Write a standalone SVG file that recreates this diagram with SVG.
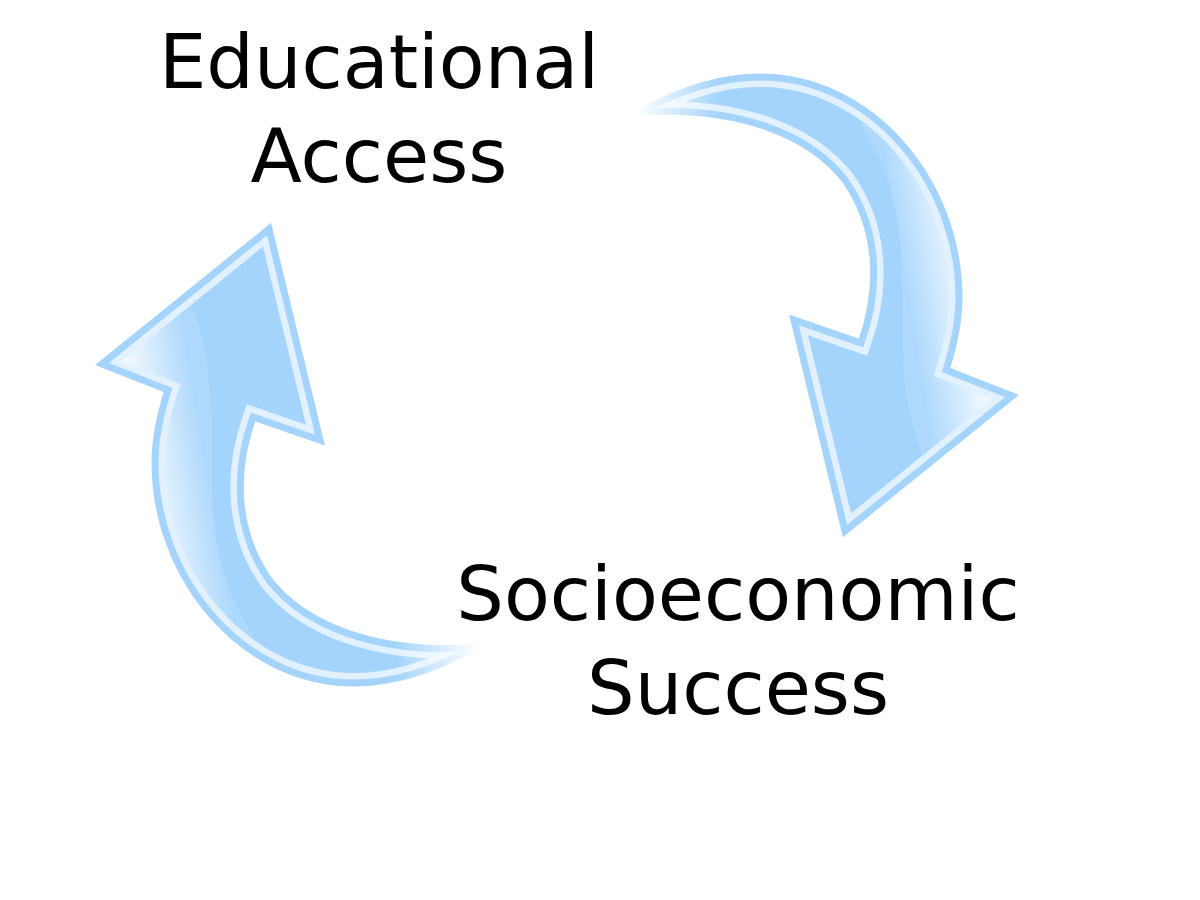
<svg xmlns="http://www.w3.org/2000/svg" xmlns:xlink="http://www.w3.org/1999/xlink" width="1200" height="900" viewBox="0 0 1200 900">
  <style>
    .label { font-family: "DejaVu Sans", "Liberation Sans", sans-serif; font-size: 75px; fill: #000; text-anchor: middle; }
  </style>
  <defs>
    <path id="arrowShape" d="M 640,112 C 680,90 720,77 760,77 C 870,77 959,180 959,298 C 959,322 953,348 946,370 L 1012,396 L 845,531 L 794,320 L 861,343 C 880,290 880,230 845,180 C 810,135 740,106 640,112 Z"/>
    <clipPath id="arrowClip" clipPathUnits="userSpaceOnUse">
      <use xlink:href="#arrowShape"/>
    </clipPath>
    <linearGradient id="tailFade" gradientUnits="userSpaceOnUse" x1="636" y1="0" x2="718" y2="0">
      <stop offset="0" stop-color="#000"/>
      <stop offset="1" stop-color="#fff"/>
    </linearGradient>
    <mask id="tailMask" maskUnits="userSpaceOnUse" x="0" y="0" width="1200" height="900">
      <rect x="0" y="0" width="1200" height="900" fill="url(#tailFade)"/>
    </mask>
    <linearGradient id="hilite" gradientUnits="userSpaceOnUse" x1="900" y1="250" x2="960" y2="240">
      <stop offset="0" stop-color="#ffffff" stop-opacity="0.12"/>
      <stop offset="1" stop-color="#ffffff" stop-opacity="0.85"/>
    </linearGradient>
    <g id="arrow">
      <g mask="url(#tailMask)">
        <use xlink:href="#arrowShape" fill="#a4d4fc"/>
        <path d="M 860,125 C 890,165 901,215 902,277 C 903,340 898,400 928,470 L 1050,400 L 990,300 L 975,200 L 900,110 Z" fill="url(#hilite)" clip-path="url(#arrowClip)"/>
        <use xlink:href="#arrowShape" fill="none" stroke="#e2f1ff" stroke-width="20" stroke-linejoin="miter" clip-path="url(#arrowClip)"/>
        <use xlink:href="#arrowShape" fill="none" stroke="#a4d4fc" stroke-width="7" stroke-linejoin="miter"/>
      </g>
    </g>
  </defs>

  <rect x="0" y="0" width="1200" height="900" fill="#ffffff"/>

  <g id="connectors">
    <use id="arrow-right" xlink:href="#arrow"/>
    <use id="arrow-left" xlink:href="#arrow" transform="rotate(180 557 380)"/>
  </g>

  <g id="node-educational-access">
    <text class="label" x="379" y="88">Educational</text>
    <text class="label" x="379" y="182">Access</text>
  </g>

  <g id="node-socioeconomic-success">
    <text class="label" x="738" y="620">Socioeconomic</text>
    <text class="label" x="738" y="714">Success</text>
  </g>
</svg>
